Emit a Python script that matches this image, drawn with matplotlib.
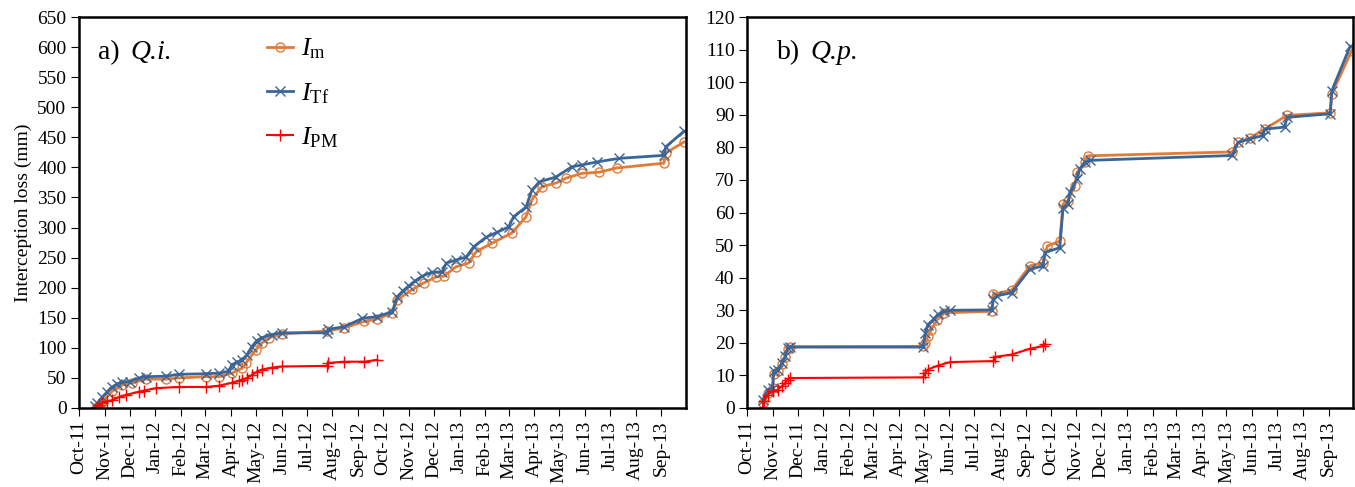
import pandas as pd
import matplotlib
matplotlib.use('Agg')
import matplotlib.pyplot as plt
import matplotlib.dates as mdates

plt.rcParams['font.family'] = 'Liberation Serif'
plt.rcParams['mathtext.fontset'] = 'custom'
plt.rcParams['mathtext.rm'] = 'Liberation Serif'
plt.rcParams['mathtext.it'] = 'Liberation Serif:italic'

# ---- a) Q.i. ----
qi_tf_dates = ['2011-10-20', '2011-10-23', '2011-10-29', '2011-11-04', '2011-11-10', '2011-11-16',
               '2011-11-22', '2011-12-01', '2011-12-12', '2011-12-21', '2012-01-14', '2012-01-29',
               '2012-03-02', '2012-03-17', '2012-03-29', '2012-04-02', '2012-04-08', '2012-04-14',
               '2012-04-20', '2012-04-26', '2012-05-02', '2012-05-08', '2012-05-20', '2012-06-01',
               '2012-07-25', '2012-07-27', '2012-08-15', '2012-09-06', '2012-09-24', '2012-10-12',
               '2012-10-18', '2012-10-25', '2012-11-01', '2012-11-08', '2012-11-17', '2012-11-29',
               '2012-12-11', '2012-12-16', '2012-12-28', '2013-01-09', '2013-01-18', '2013-02-02',
               '2013-02-15', '2013-03-01', '2013-03-07', '2013-03-22', '2013-03-29', '2013-04-07',
               '2013-04-27', '2013-05-16', '2013-05-28', '2013-06-15', '2013-07-12', '2013-09-04',
               '2013-09-06', '2013-09-28']
qi_tf = [3, 8, 18, 27, 35, 40, 43, 44, 50, 52, 53, 56, 57, 58, 61, 72, 76, 80, 88, 102, 112, 117,
         122, 125, 125, 131, 135, 149, 152, 160, 185, 195, 203, 211, 219, 226, 226, 241, 246, 251,
         268, 284, 292, 301, 318, 334, 362, 376, 384, 401, 404, 409, 415, 420, 434, 460]

qi_m_dates = ['2011-10-22', '2011-10-29', '2011-11-10', '2011-11-22', '2011-12-04', '2011-12-21',
              '2012-01-14', '2012-01-29', '2012-03-02', '2012-03-17', '2012-04-02', '2012-04-14',
              '2012-04-19', '2012-05-01', '2012-05-08', '2012-05-17', '2012-06-01', '2012-07-25',
              '2012-08-15', '2012-09-08', '2012-09-24', '2012-10-12', '2012-10-18', '2012-11-05',
              '2012-11-19', '2012-12-04', '2012-12-13', '2012-12-28', '2013-01-12', '2013-01-21',
              '2013-02-09', '2013-03-05', '2013-03-22', '2013-03-29', '2013-04-10', '2013-04-27',
              '2013-05-09', '2013-05-28', '2013-06-18', '2013-07-09', '2013-09-04', '2013-09-06',
              '2013-09-28']
qi_m = [0, 10, 28, 38, 42, 48, 48, 50, 52, 52, 58, 66, 75, 97, 108, 117, 123, 128, 133, 144, 148,
        158, 180, 197, 208, 218, 219, 235, 241, 260, 274, 291, 318, 346, 368, 374, 382, 390, 392,
        399, 407, 424, 442]

qi_pm_dates = ['2011-10-22', '2011-10-25', '2011-10-29', '2011-11-04', '2011-11-10', '2011-11-18',
               '2011-11-27', '2011-12-12', '2011-12-18', '2012-01-02', '2012-01-29', '2012-03-02',
               '2012-03-17', '2012-04-02', '2012-04-10', '2012-04-14', '2012-04-20', '2012-04-26',
               '2012-05-02', '2012-05-08', '2012-05-20', '2012-06-01', '2012-07-25', '2012-07-27',
               '2012-08-15', '2012-09-08', '2012-09-24']
qi_pm = [0, 5, 8, 11, 13, 18, 22, 27, 29, 33, 35, 35, 37, 42, 45, 47, 50, 55, 60, 64, 67, 69, 70,
         75, 77, 77, 80]

# ---- b) Q.p. ----
qp_tf_dates = ['2011-10-20', '2011-10-26', '2011-11-01', '2011-11-02', '2011-11-07', '2011-11-12',
               '2011-11-16', '2011-11-19', '2011-11-22', '2012-04-30', '2012-05-03', '2012-05-06',
               '2012-05-13', '2012-05-18', '2012-05-26', '2012-06-02', '2012-07-22', '2012-07-24',
               '2012-07-28', '2012-08-15', '2012-09-06', '2012-09-22', '2012-09-24', '2012-10-12',
               '2012-10-16', '2012-10-22', '2012-10-24', '2012-11-02', '2012-11-05', '2012-11-11',
               '2012-11-17', '2013-05-08', '2013-05-15', '2013-05-29', '2013-06-14', '2013-06-16',
               '2013-07-10', '2013-07-13', '2013-09-03', '2013-09-05', '2013-09-27']
qp_tf = [2.5, 5.6, 6.2, 11.3, 11.8, 13.8, 15.9, 18.5, 18.7, 18.7, 23, 25.6, 27.2, 28.7, 29.7, 30.0,
         30.1, 33.3, 34.4, 35.4, 42.6, 43.6, 47.7, 49.2, 61.5, 62.6, 66.2, 70.3, 73.3, 75.4, 76.0,
         77.5, 81.5, 82.6, 83.6, 85.6, 86.2, 89.2, 90.3, 97.4, 111.0]

qp_m_dates = ['2011-10-20', '2011-10-26', '2011-11-01', '2011-11-02', '2011-11-07', '2011-11-12',
              '2011-11-16', '2011-11-19', '2011-11-22', '2012-04-30', '2012-05-03', '2012-05-06',
              '2012-05-10', '2012-05-17', '2012-05-26', '2012-07-22', '2012-07-24', '2012-08-15',
              '2012-09-06', '2012-09-22', '2012-09-27', '2012-10-12', '2012-10-16', '2012-10-22',
              '2012-10-30', '2012-11-02', '2012-11-11', '2012-11-15', '2013-05-08', '2013-05-15',
              '2013-05-29', '2013-06-16', '2013-07-13', '2013-09-03', '2013-09-05', '2013-09-29']
qp_m = [1.5, 4.5, 6, 10.5, 11.5, 13.5, 15.5, 18, 18.8, 18.9, 20, 22, 24, 27, 29.2, 29.7, 34.9,
        36.2, 43.6, 44.6, 49.7, 51.2, 62.6, 63.6, 68.2, 72.3, 75.4, 77.4, 78.6, 81.5, 82.8, 85.6,
        89.8, 90.6, 96.4, 109.7]

qp_pm_dates = ['2011-10-20', '2011-10-21', '2011-10-26', '2011-11-01', '2011-11-07', '2011-11-12',
               '2011-11-16', '2011-11-19', '2011-11-22', '2012-04-30', '2012-05-03', '2012-05-06',
               '2012-05-18', '2012-06-02', '2012-07-24', '2012-07-26', '2012-08-15', '2012-09-06',
               '2012-09-22', '2012-09-24']
qp_pm = [0, 2, 4.1, 5.1, 5.6, 6.7, 7.7, 8.7, 9.2, 9.4, 10.8, 11.8, 13, 14.1, 14.4, 15.7, 16.4,
         18.2, 19.0, 19.7]

C_M = '#E07B39'
C_TF = '#3A6598'
C_PM = '#FF0000'

fig = plt.figure(figsize=(13.55, 4.87), dpi=100)
ax1 = fig.add_axes([79 / 1355, 79 / 487, 607 / 1355, 391 / 487])
ax2 = fig.add_axes([747 / 1355, 79 / 487, 606 / 1355, 391 / 487])


def draw(ax, m_d, m, tf_d, tf, pm_d, pm, ymax, ystep, tag, species, xtag, xsp):
    ax.plot(pd.to_datetime(m_d), m, color=C_M, lw=2, marker='o', ms=6.5,
            mfc='none', mec=C_M, mew=1, label=r'$I_{\mathrm{m}}$')
    ax.plot(pd.to_datetime(tf_d), tf, color=C_TF, lw=2, marker='x', ms=6.5,
            mec=C_TF, mew=1, label=r'$I_{\mathrm{Tf}}$')
    ax.plot(pd.to_datetime(pm_d), pm, color=C_PM, lw=1.5, marker='+', ms=8,
            mec=C_PM, mew=1, label=r'$I_{\mathrm{PM}}$')
    ax.set_xlim(pd.Timestamp('2011-10-01'), pd.Timestamp('2013-09-30 12:00'))
    ax.set_ylim(0, ymax)
    ax.set_yticks(range(0, ymax + 1, ystep))
    ax.xaxis.set_major_locator(mdates.MonthLocator())
    ax.xaxis.set_major_formatter(mdates.DateFormatter('%b-%y'))
    ax.tick_params(axis='x', labelrotation=90, labelsize=14, direction='out', length=6, pad=3)
    ax.tick_params(axis='y', labelsize=14, direction='out', length=6, pad=3)
    for s in ax.spines.values():
        s.set_linewidth(1.8)
    ax.text(xtag, 0.893, tag, transform=ax.transAxes, fontsize=20, va='baseline')
    ax.text(xsp, 0.893, species, transform=ax.transAxes, fontsize=20, va='baseline',
            fontstyle='italic')


draw(ax1, qi_m_dates, qi_m, qi_tf_dates, qi_tf, qi_pm_dates, qi_pm, 650, 50,
     'a)', 'Q.i.', 0.031, 0.084)
draw(ax2, qp_m_dates, qp_m, qp_tf_dates, qp_tf, qp_pm_dates, qp_pm, 120, 10,
     'b)', 'Q.p.', 0.050, 0.104)

ax1.set_ylabel('Interception loss (mm)', fontsize=14, labelpad=4)
ax1.legend(loc='upper left', bbox_to_anchor=(0.27, 1.01), frameon=False, fontsize=19,
           handlelength=1.0, handletextpad=0.3, labelspacing=0.75)

fig.savefig('out.png', dpi=100)
